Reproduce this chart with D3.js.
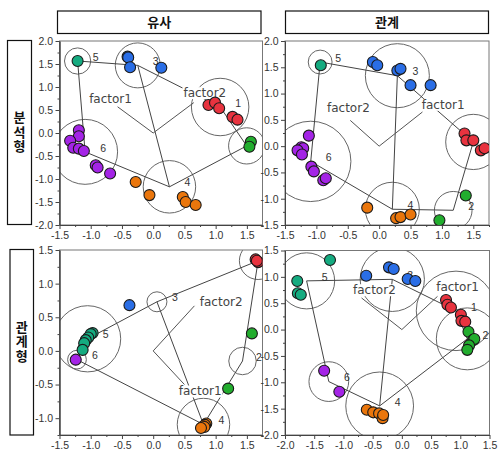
<!DOCTYPE html>
<html><head><meta charset="utf-8">
<script src="https://cdn.jsdelivr.net/npm/d3@7"></script>
<style>body{margin:0;background:#fff;} svg{display:block;}</style>
</head><body>
<svg id="c" width="498" height="452"></svg>
<script>
// ---------- data ----------
const groupLabels = ['1','2','3','4','5','6'];
const groupColors = ['#e8333f','#22ad2e','#2a6ee6','#ea760c','#15ab80','#a424e6'];
const colTitles = ['유사','관계'];
const rowTitles = ['분석형','관계형'];
const edgePairs = [[5,3],[3,1],[1,2],[2,4],[4,6],[6,5],[3,4]];

// Panel A: 분석형 / 유사
const xDomainA = [-1.5, 1.75], yDomainA = [-2, 2];
const xTicksA = [-1.5,-1.0,-0.5,0.0,0.5,1.0,1.5];
const yTicksA = [-2.0,-1.5,-1.0,-0.5,0.0,0.5,1.0,1.5,2.0];
const pointsA = [
  [1,0.885,0.61],[1,0.99,0.66],[1,1.056,0.537],[1,1.27,0.35],[1,1.35,0.29],
  [2,1.564,-0.19],[2,1.54,-0.30],
  [3,-0.41,1.66],[3,-0.40,1.64],[3,-0.37,1.43],[3,0.13,1.42],
  [4,-0.28,-1.065],[4,-0.06,-1.35],[4,0.474,-1.39],[4,0.52,-1.50],[4,0.68,-1.565],
  [5,-1.21,1.565],
  [6,-1.19,0.06],[6,-1.19,-0.07],[6,-1.33,-0.17],[6,-1.28,-0.32],[6,-1.19,-0.34],
  [6,-1.11,-0.39],[6,-0.92,-0.70],[6,-0.89,-0.75],[6,-0.69,-0.88]
];
const centersA = [[1.072,0.565,0.46],[1.497,-0.28,0.29],[-0.247,1.47,0.36],
                  [0.26,-1.17,0.42],[-1.21,1.565,0.21],[-1.09,-0.41,0.52]];
const factorsA = [['factor1',-0.57,0.57,-0.683,0.75],['factor2',0.65,0.66,0.827,0.87]];

// Panel B: 분석형 / 관계
const xDomainB = [-1.5, 1.75], yDomainB = [-1.5, 2];
const xTicksB = [-1.5,-1.0,-0.5,0.0,0.5,1.0,1.5];
const yTicksB = [-1.5,-1.0,-0.5,0.0,0.5,1.0,1.5,2.0];
const pointsB = [
  [1,1.36,0.24],[1,1.39,0.11],[1,1.50,0.11],[1,1.62,-0.08],[1,1.68,-0.04],
  [2,1.38,-0.94],[2,0.96,-1.41],
  [3,-0.10,1.60],[3,-0.03,1.54],[3,0.29,1.44],[3,0.34,1.47],[3,0.50,1.16],[3,0.82,1.16],
  [4,-0.19,-1.17],[4,0.27,-1.37],[4,0.34,-1.35],[4,0.50,-1.30],
  [5,-0.93,1.54],
  [6,-1.12,0.20],[6,-1.24,-0.02],[6,-1.21,-0.04],[6,-1.30,-0.08],[6,-1.23,-0.16],
  [6,-1.08,-0.39],[6,-1.04,-0.48],[6,-0.89,-0.65],[6,-0.85,-0.61]
];
const centersB = [[1.50,0.08,0.44],[1.18,-1.22,0.30],[0.29,1.34,0.51],
                  [0.21,-1.20,0.43],[-0.94,1.60,0.19],[-1.09,-0.29,0.64]];
const factorsB = [['factor2',-0.46,0.49,-0.49,0.72],['factor1',0.69,0.65,1.02,0.79]];

// Panel C: 관계형 / 유사
const xDomainC = [-1.5, 1.75], yDomainC = [-1.25, 1.5];
const xTicksC = [-1.5,-1.0,-0.5,0.0,0.5,1.0,1.5];
const yTicksC = [-1.0,-0.5,0.0,0.5,1.0,1.5];
const pointsC = [
  [1,1.64,1.36],[1,1.68,1.32],[1,1.66,1.34],
  [2,1.58,0.26],[2,1.20,-0.56],
  [3,-0.38,0.68],
  [4,0.85,-1.08],[4,0.83,-1.10],[4,0.80,-1.12],[4,0.82,-1.13],[4,0.765,-1.145],
  [5,-0.97,0.265],[5,-1.0,0.25],[5,-1.04,0.20],[5,-1.08,0.16],[5,-1.105,0.115],[5,-1.13,0.015],
  [6,-1.24,-0.13]
];
const centersC = [[1.68,1.34,0.30],[1.43,-0.15,0.22],[0.06,0.73,0.16],
                  [0.805,-1.094,0.42],[-1.05,0.18,0.53],[-1.22,-0.13,0.15]];
const factorsC = [['factor2',0.66,0.67,1.088,0.73],['factor1',0.50,-0.50,0.752,-0.60]];

// Panel D: 관계형 / 관계
const xDomainD = [-2.0, 1.5], yDomainD = [-2.0, 1.5];
const xTicksD = [-2.0,-1.5,-1.0,-0.5,0.0,0.5,1.0,1.5];
const yTicksD = [-2.0,-1.5,-1.0,-0.5,0.0,0.5,1.0,1.5];
const pointsD = [
  [1,0.756,0.56],[1,0.78,0.47],[1,0.84,0.42],[1,1.01,0.28],[1,1.02,0.165],[1,1.085,0.15],
  [2,1.14,-0.04],[2,1.22,-0.195],[2,1.24,-0.18],[2,1.15,-0.30],[2,1.12,-0.385],
  [3,-0.61,1.02],[3,-0.22,1.18],[3,-0.14,1.15],[3,0.10,0.96],[3,0.23,0.92],
  [4,-0.60,-1.52],[4,-0.49,-1.57],[4,-0.39,-1.59],[4,-0.33,-1.68],[4,-0.32,-1.62],
  [5,-1.23,1.32],[5,-1.79,0.92],[5,-1.78,0.69],[5,-1.73,0.66],
  [6,-1.33,-0.78],[6,-1.07,-1.18]
];
const centersD = [[0.927,0.355,0.68],[1.12,-0.176,0.53],[-0.164,0.953,0.55],
                  [-0.38,-1.448,0.58],[-1.63,0.924,0.48],[-1.25,-0.987,0.34]];
const factorsD = [['factor2',-0.69,0.60,-0.47,0.75],['factor1',0.61,0.63,0.954,0.81]];

// ---------- layout ----------
const svg = d3.select('#c');
const panels = [
  {id:'A', box:[59.5,262.5,41,225], xd:xDomainA, yd:yDomainA, xt:xTicksA, yt:yTicksA, pts:pointsA, cen:centersA, fac:factorsA},
  {id:'B', box:[285,489,41,225],   xd:xDomainB, yd:yDomainB, xt:xTicksB, yt:yTicksB, pts:pointsB, cen:centersB, fac:factorsB},
  {id:'C', box:[59.5,262.5,250,435], xd:xDomainC, yd:yDomainC, xt:xTicksC, yt:yTicksC, pts:pointsC, cen:centersC, fac:factorsC},
  {id:'D', box:[285,489.5,250.5,435], xd:xDomainD, yd:yDomainD, xt:xTicksD, yt:yTicksD, pts:pointsD, cen:centersD, fac:factorsD}
];
const fmt = v => (Math.abs(v) < 1e-9 ? 0 : v).toFixed(1);
const tickFont = '"Liberation Sans", Arial, sans-serif';

function minorTicks(dom) {
  const out = [];
  for (let v = Math.ceil(dom[0] / 0.25) * 0.25; v <= dom[1] + 1e-9; v += 0.25) {
    if (Math.abs(v / 0.5 - Math.round(v / 0.5)) > 1e-6) out.push(v);
  }
  return out;
}

panels.forEach(p => {
  const [x0, x1, y0, y1] = p.box;
  const x = d3.scaleLinear().domain(p.xd).range([x0, x1]);
  const y = d3.scaleLinear().domain(p.yd).range([y1, y0]);
  const g = svg.append('g');
  const clipId = 'clip' + p.id;
  svg.append('clipPath').attr('id', clipId)
    .append('rect').attr('x', x0).attr('y', y0).attr('width', x1 - x0).attr('height', y1 - y0);
  g.append('rect').attr('x', x0).attr('y', y0).attr('width', x1 - x0).attr('height', y1 - y0)
    .attr('fill', '#fff').attr('stroke', '#777').attr('stroke-width', 1);
  const inner = g.append('g').attr('clip-path', `url(#${clipId})`);
  const rpx = r => x(p.xd[0] + r) - x(p.xd[0]);

  // cluster circles
  inner.selectAll('circle.cl').data(p.cen).join('circle').attr('class', 'cl')
    .attr('cx', d => x(d[0])).attr('cy', d => y(d[1])).attr('r', d => rpx(d[2]))
    .attr('fill', 'none').attr('stroke', '#666').attr('stroke-width', 1);

  // edges between cluster centers
  inner.selectAll('line.ed').data(edgePairs).join('line').attr('class', 'ed')
    .attr('x1', d => x(p.cen[d[0]-1][0])).attr('y1', d => y(p.cen[d[0]-1][1]))
    .attr('x2', d => x(p.cen[d[1]-1][0])).attr('y2', d => y(p.cen[d[1]-1][1]))
    .attr('stroke', '#444').attr('stroke-width', 1);

  // factor vectors
  inner.selectAll('line.fa').data(p.fac).join('line').attr('class', 'fa')
    .attr('x1', x(0)).attr('y1', y(0))
    .attr('x2', d => x(d[1])).attr('y2', d => y(d[2]))
    .attr('stroke', '#555').attr('stroke-width', 1);

  // factor labels with knock-out background
  p.fac.forEach(d => {
    const lg = inner.append('g');
    const bg = lg.append('rect').attr('fill', '#fff');
    const t = lg.append('text').attr('x', x(d[3])).attr('y', y(d[4])).attr('dy', '0.35em')
      .attr('text-anchor', 'middle').attr('font-family', '"DejaVu Sans", Verdana, sans-serif')
      .attr('font-size', 12).attr('fill', '#444').text(d[0]);
    const bb = t.node().getBBox();
    bg.attr('x', bb.x - 1).attr('y', bb.y + 1).attr('width', bb.width + 2).attr('height', bb.height - 2);
  });

  // cluster number labels (those falling outside the plot frame are clipped away entirely)
  const numData = p.cen.map((d, i) => ({cx: x(d[0]) + 18, cy: y(d[1]) - 4, lab: groupLabels[i]}))
    .filter(d => d.cx < x1);
  inner.selectAll('text.num').data(numData).join('text').attr('class', 'num')
    .attr('x', d => Math.min(d.cx, x1 - 3.5)).attr('y', d => d.cy).attr('dy', '0.35em')
    .attr('text-anchor', 'middle').attr('font-family', tickFont).attr('font-size', 10.5)
    .attr('fill', '#333').text(d => d.lab);

  // points
  inner.selectAll('circle.pt').data(p.pts).join('circle').attr('class', 'pt')
    .attr('cx', d => x(d[1])).attr('cy', d => y(d[2])).attr('r', 5.5)
    .attr('fill', d => groupColors[d[0]-1]).attr('stroke', '#1a1a1a').attr('stroke-width', 1.1);

  // axes
  const styleAxis = (sel) => {
    sel.select('.domain').attr('stroke', '#444');
    sel.selectAll('.tick line').attr('stroke', '#444');
    sel.selectAll('.tick text').attr('fill', '#333').attr('font-family', tickFont).attr('font-size', 10.5);
  };
  const ax = g.append('g').attr('transform', `translate(0,${y1})`)
    .call(d3.axisBottom(x).tickValues(p.xt).tickFormat(fmt).tickSize(4).tickSizeOuter(0).tickPadding(2.5));
  styleAxis(ax);
  const axm = g.append('g').attr('transform', `translate(0,${y1})`)
    .call(d3.axisBottom(x).tickValues(minorTicks(p.xd)).tickFormat('').tickSize(2).tickSizeOuter(0));
  styleAxis(axm);
  const ay = g.append('g').attr('transform', `translate(${x0},0)`)
    .call(d3.axisLeft(y).tickValues(p.yt).tickFormat(fmt).tickSize(4).tickSizeOuter(0).tickPadding(2.5));
  styleAxis(ay);
  const aym = g.append('g').attr('transform', `translate(${x0},0)`)
    .call(d3.axisLeft(y).tickValues(minorTicks(p.yd)).tickFormat('').tickSize(2).tickSizeOuter(0));
  styleAxis(aym);
});

// column header boxes
const colBoxes = [[57.5,261,11,33.5],[285.5,488.5,11,33.5]];
colTitles.forEach((t, i) => {
  const [a, b, c, d] = colBoxes[i];
  svg.append('rect').attr('x', a).attr('y', c).attr('width', b - a).attr('height', d - c)
    .attr('fill', '#fff').attr('stroke', '#111').attr('stroke-width', 1.2);
  svg.append('text').attr('x', (a + b) / 2).attr('y', (c + d) / 2).attr('dy', '0.36em')
    .attr('text-anchor', 'middle').attr('font-family', '"Noto Sans CJK KR", sans-serif')
    .attr('font-weight', 'bold').attr('font-size', 13).attr('fill', '#111').text(t);
});

// row header boxes (upright vertical text)
const rowBoxes = [[7.5,31.5,40.5,224.5],[10,33.5,249.5,435]];
rowTitles.forEach((t, i) => {
  const [a, b, c, d] = rowBoxes[i];
  svg.append('rect').attr('x', a).attr('y', c).attr('width', b - a).attr('height', d - c)
    .attr('fill', '#fff').attr('stroke', '#111').attr('stroke-width', 1.2);
  svg.append('text').attr('x', (a + b) / 2).attr('y', (c + d) / 2)
    .attr('text-anchor', 'middle')
    .style('writing-mode', 'vertical-rl').style('text-orientation', 'upright')
    .style('letter-spacing', '1.5px')
    .attr('font-family', '"Noto Sans CJK KR", sans-serif').attr('font-weight', 'bold')
    .attr('font-size', 13).attr('fill', '#111').text(t);
});
</script>
</body></html>
